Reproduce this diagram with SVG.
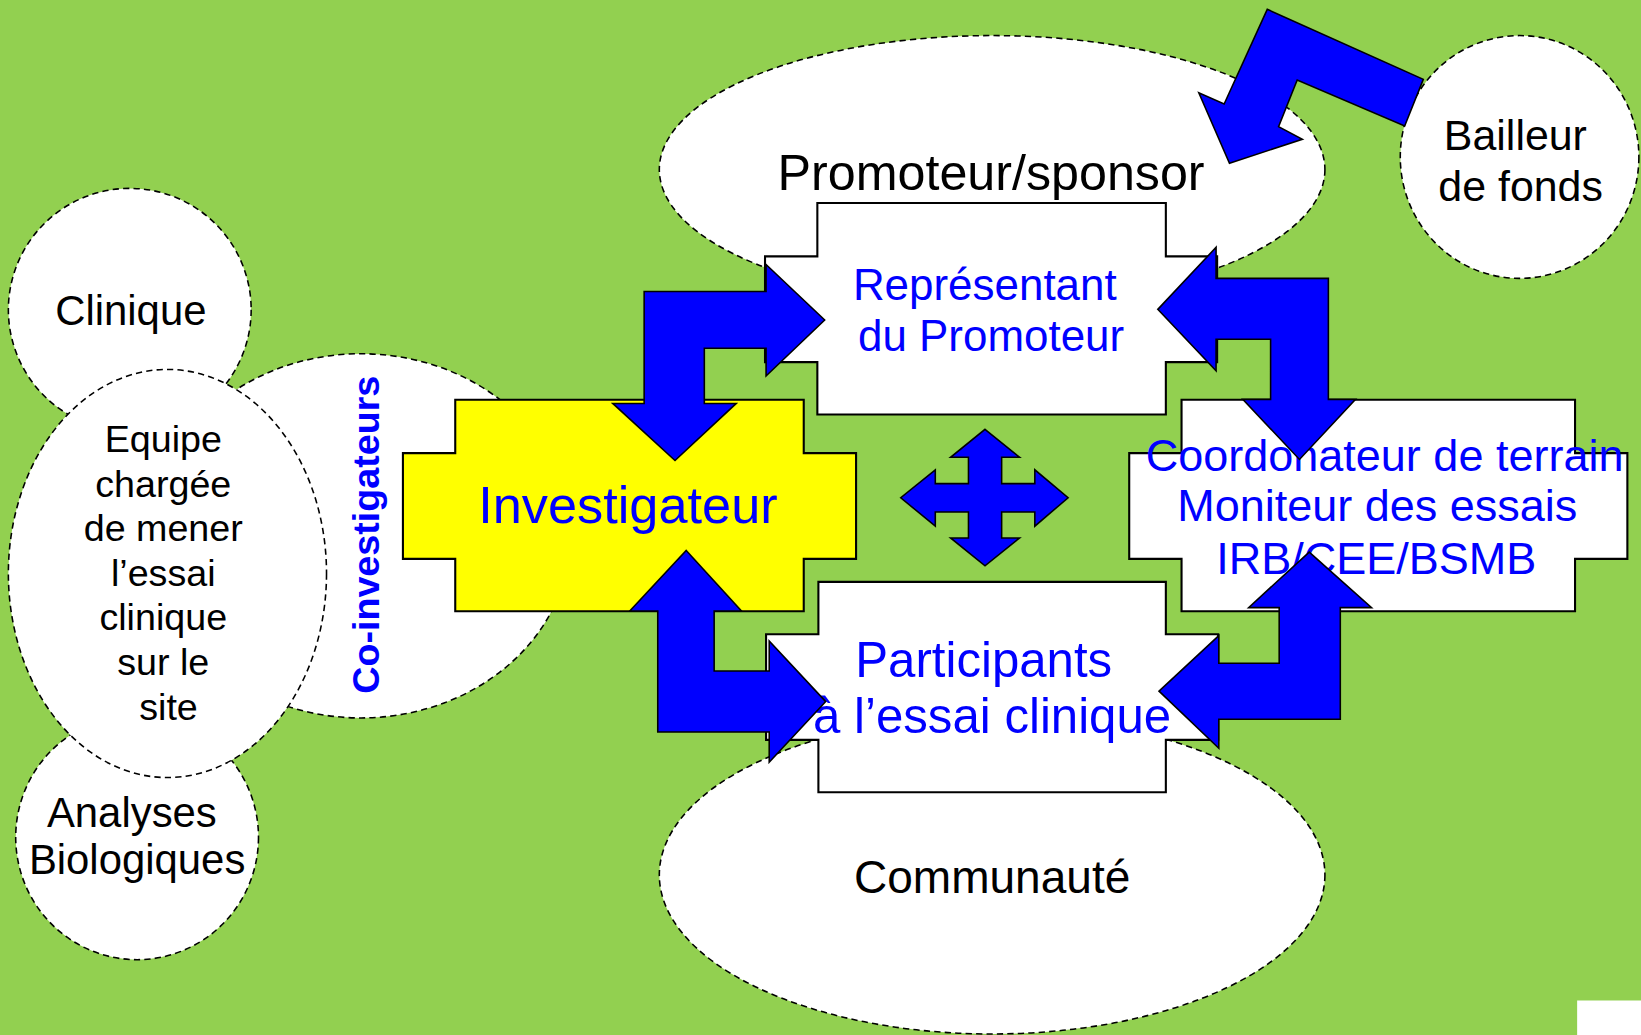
<svg xmlns="http://www.w3.org/2000/svg" width="1641" height="1035" viewBox="0 0 1641 1035">
<defs>
<style>
.ell{fill:#fff;stroke:#000;stroke-width:1.5;stroke-dasharray:6 4}
.box{stroke:#000;stroke-width:2}
.arr{fill:#0000FF;stroke:#000;stroke-width:1.5;stroke-linejoin:miter}
.t{font-family:"Liberation Sans",Arial,sans-serif;text-anchor:middle}
.k{fill:#000}
.b{fill:#0000FF}
</style>
</defs>
<rect x="0" y="0" width="1641" height="1035" fill="#92D050"/>
<g transform="scale(1.04654)">
  <rect x="1507" y="956" width="62" height="34" fill="#fff"/>
  <g id="clinique">
    <ellipse class="ell" cx="124" cy="296" rx="116" ry="116"/>
    <text class="t k" x="125" y="311" font-size="40">Clinique</text>
  </g>
  <g id="co-investigateurs">
    <ellipse class="ell" cx="345" cy="512" rx="200" ry="174"/>
    <text class="t b" font-size="36" font-weight="bold" transform="translate(362,511) rotate(-90)">Co-investigateurs</text>
  </g>
  <g id="analyses">
    <ellipse class="ell" cx="131" cy="800" rx="116" ry="117"/>
    <text class="t k" font-size="40"><tspan x="126" y="790">Analyses</tspan><tspan x="131" y="835">Biologiques</tspan></text>
  </g>
  <g id="equipe">
    <ellipse class="ell" cx="160" cy="548" rx="152" ry="195"/>
    <text class="t k" font-size="36"><tspan x="156" y="432">Equipe</tspan><tspan x="156" y="475">chargée</tspan><tspan x="156" y="517">de mener</tspan><tspan x="156" y="560">l’essai</tspan><tspan x="156" y="602">clinique</tspan><tspan x="156" y="645">sur le</tspan><tspan x="161" y="688">site</tspan></text>
  </g>
  <g id="promoteur">
    <ellipse class="ell" cx="948" cy="162" rx="318" ry="128"/>
    <text class="t k" x="947" y="182" font-size="48">Promoteur/sponsor</text>
  </g>
  <g id="bailleur">
    <ellipse class="ell" cx="1452" cy="150" rx="114" ry="116"/>
    <text class="t k" font-size="41"><tspan x="1448" y="143">Bailleur</tspan><tspan x="1453" y="192">de fonds</tspan></text>
  </g>
  <g id="communaute">
    <ellipse class="ell" cx="948" cy="836" rx="318" ry="152"/>
    <text class="t k" x="948" y="853" font-size="44">Communauté</text>
  </g>
  <g id="representant">
    <path class="box" fill="#fff" d="M781,194 H1114 V245 H1163 V346 H1114 V396 H781 V346 H731 V245 H781 Z"/>
    <text class="t b" font-size="42"><tspan x="941" y="287">Représentant</tspan><tspan x="947" y="335">du Promoteur</tspan></text>
  </g>
  <g id="investigateur">
    <path class="box" fill="#FFFF00" d="M435,382 H768 V433 H818 V534 H768 V584 H435 V534 H385 V433 H435 Z"/>
    <text class="t b" x="600" y="500" font-size="50">Investigateur</text>
  </g>
  <g id="coordonateur">
    <path class="box" fill="#fff" d="M1129,382 H1505 V433 H1555 V534 H1505 V584 H1129 V534 H1079 V433 H1129 Z"/>
    <text class="t b" font-size="43"><tspan x="1323" y="450">Coordonateur de terrain</tspan><tspan x="1316" y="498">Moniteur des essais</tspan><tspan x="1315" y="548">IRB/CEE/BSMB</tspan></text>
  </g>
  <g id="participants">
    <path class="box" fill="#fff" d="M782,556 H1114 V606 H1164 V707 H1114 V757 H782 V707 H732 V606 H782 Z"/>
    <text class="t b" font-size="47"><tspan x="940" y="647">Participants</tspan><tspan x="948" y="700">à l’essai clinique</tspan></text>
  </g>
  <g id="connectors">
    <polygon class="arr" points="645,440 703.5,385.5 673,385.5 673,332.8 732,332.8 732,359.3 788,305.8 732,252.7 732,278.5 615.5,278.5 615.5,385.5 585.5,385.5"/>
    <polygon class="arr" points="655.7,526 708.5,583.8 682.4,583.8 682.4,641.2 735,641.2 735,612.5 789,670.4 735,728.3 735,699.5 628.5,699.5 628.5,583.8 601.8,583.8"/>
    <polygon class="arr" points="1106.3,295.6 1162,236.3 1162,266 1269.3,266 1269.3,381.6 1295.3,381.6 1241.7,439 1187.5,381.6 1214.1,381.6 1214.1,324.2 1162,324.2 1162,354.2"/>
    <polygon class="arr" points="1107.5,660.4 1164.6,607.3 1164.6,633.7 1222.3,633.7 1222.3,580.6 1193.1,580.6 1251,527.5 1310.6,580.6 1280.7,580.6 1280.7,687.2 1164.6,687.2 1164.6,715"/>
    <polygon class="arr" points="1210.9,8.9 1360,75.8 1342.2,120.4 1239.5,76.4 1221.7,121 1244.5,133.1 1174.8,156 1145.5,88.6 1169.7,99.4"/>
    <polygon class="arr" points="941.2,410.2 974.3,437 957.1,437 957.1,462.1 988.8,462.1 988.8,448.9 1020.6,475.6 988.8,502.8 988.8,489.2 957.1,489.2 957.1,514 974.3,514 941.2,540.7 908.3,514 925.4,514 925.4,489.2 893.7,489.2 893.7,502.8 860.7,475.6 893.7,448.9 893.7,462.1 925.4,462.1 925.4,437 908.3,437"/>
  </g>
</g>
</svg>
